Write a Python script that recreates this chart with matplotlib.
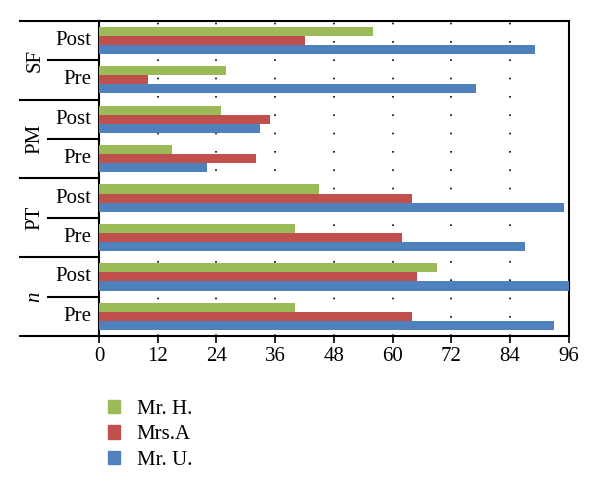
import numpy as np
import matplotlib.pyplot as plt
from matplotlib.patches import Patch
from matplotlib.transforms import blended_transform_factory

plt.rcParams['font.family'] = ['Liberation Serif', 'DejaVu Serif']

# Rows from bottom to top
groups = ['n', 'PT', 'PM', 'SF']
phases = ['Pre', 'Post']
mr_h = [40, 69, 40, 45, 15, 25, 26, 56]
mrs_a = [64, 65, 62, 64, 32, 35, 10, 42]
mr_u = [93, 96, 87, 95, 22, 33, 77, 89]
series_names = ['Mr. H.', 'Mrs.A', 'Mr. U.']
colors = ['#9BBB59', '#C0504D', '#4F81BD']
xticks = [0, 12, 24, 36, 48, 60, 72, 84, 96]

fig = plt.figure(figsize=(6, 4.92), dpi=100)
ax = fig.add_axes([0.165, 0.317, 0.783, 0.641])

y = np.arange(len(mr_h))
h = 0.23
ax.barh(y + h, mr_h, height=h, color=colors[0], zorder=3)
ax.barh(y, mrs_a, height=h, color=colors[1], zorder=3)
ax.barh(y - h, mr_u, height=h, color=colors[2], zorder=3)

ax.set_xlim(0, 96)
ax.set_ylim(-0.5, 7.5)
ax.set_xticks(xticks)
ax.set_yticks([])
ax.tick_params(axis='x', direction='out', length=5, width=1.2, labelsize=15, pad=3)

for x in xticks[1:-1]:
    ax.axvline(x, color='black', linestyle=(0, (1, 10)), linewidth=1.2, zorder=1)

for s in ax.spines.values():
    s.set_linewidth(1.5)

trans = blended_transform_factory(ax.transAxes, ax.transData)
# group separators
for b in [-0.5, 1.5, 3.5, 5.5, 7.5]:
    ax.plot([-0.168, 0], [b, b], color='black', lw=1.5, transform=trans, clip_on=False)
# Pre / Post separators
for b in [0.5, 2.5, 4.5, 6.5]:
    ax.plot([-0.108, 0], [b, b], color='black', lw=1.5, transform=trans, clip_on=False)

for i in range(len(mr_h)):
    ax.text(-0.017, i, phases[i % 2], transform=trans, ha='right', va='center', fontsize=15)
for g, name in enumerate(groups):
    style = 'italic' if name == 'n' else 'normal'
    ax.text(-0.136, 2 * g + 0.5, name, transform=trans, ha='center', va='center',
            rotation=90, fontsize=15, style=style)

handles = [Patch(color=c) for c in colors]
fig.legend(handles, series_names, loc='upper left', bbox_to_anchor=(0.148, 0.225),
           frameon=False, fontsize=15, handlelength=0.6, handleheight=0.6,
           handletextpad=0.8, labelspacing=0.3)

fig.savefig('out.png', dpi=100)
